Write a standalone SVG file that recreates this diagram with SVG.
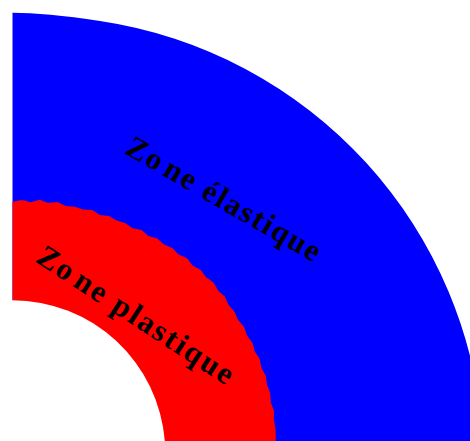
<svg xmlns="http://www.w3.org/2000/svg" width="470" height="441" viewBox="0 0 470 441">
<style>
.lbl{font-family:"Liberation Serif","Times New Roman",serif;font-weight:bold;font-size:31px;fill:#000;text-anchor:middle}
.blue{fill:#0000ff}
.red{fill:#ff0000}
.hole{fill:#ffffff}
</style>
<rect width="470" height="441" fill="#ffffff"/>
<g id="zone-elastique">
<path class="blue" d="M12.5,441 L12.5,12.7 Q45,12.7 100,20.9 A450,450 0 0 1 483,441 Z"/>
</g>
<g id="zone-plastique">
<path class="red" d="M12.5,201.7 L21.85,200.1 L30.68,202.25 L39.72,199.71 L48.34,203 L57.42,202.08 L65.77,205.95 L74.66,206.66 L83.05,209.61 L92.13,209.97 L99.87,214.95 L108.89,215.95 L116.62,220.52 L125.15,223.07 L132.55,228.15 L141.57,229.96 L148.35,236 L157.24,238.44 L163.89,244.53 L172.33,248 L178.55,254.55 L187.05,258.24 L192.47,265.61 L200.74,269.88 L205.99,277.26 L213.57,282.47 L217.95,290.54 L224.76,296.56 L228.55,304.92 L234.49,311.67 L238.09,319.98 L243.98,326.85 L246.99,335.38 L252.39,342.65 L254.79,351.39 L259.68,359.02 L261.47,367.89 L265.81,375.84 L266.98,384.82 L270.25,393.17 L270.78,402.19 L273.96,410.66 L273.88,419.67 L275.45,428.45 L275.74,437.34 L275.5,441 L12.5,441 Z"/>
</g>
<g id="bore">
<path class="hole" d="M0,441 L0,300.2 L12.5,300.2 A153,153 0 0 1 164.8,441 Z"/>
</g>
<g id="labels">
<text id="label-elastique" class="lbl" letter-spacing="1.8" x="219.5" y="208" transform="rotate(30 219.5 208)">Zo<tspan dx="4">ne</tspan> élastique</text>
<text id="label-plastique" class="lbl" letter-spacing="2.2" x="131" y="324" transform="rotate(33 131 324)">Zo<tspan dx="4">ne</tspan> plastique</text>
</g>
<g id="connectors"/>
</svg>
